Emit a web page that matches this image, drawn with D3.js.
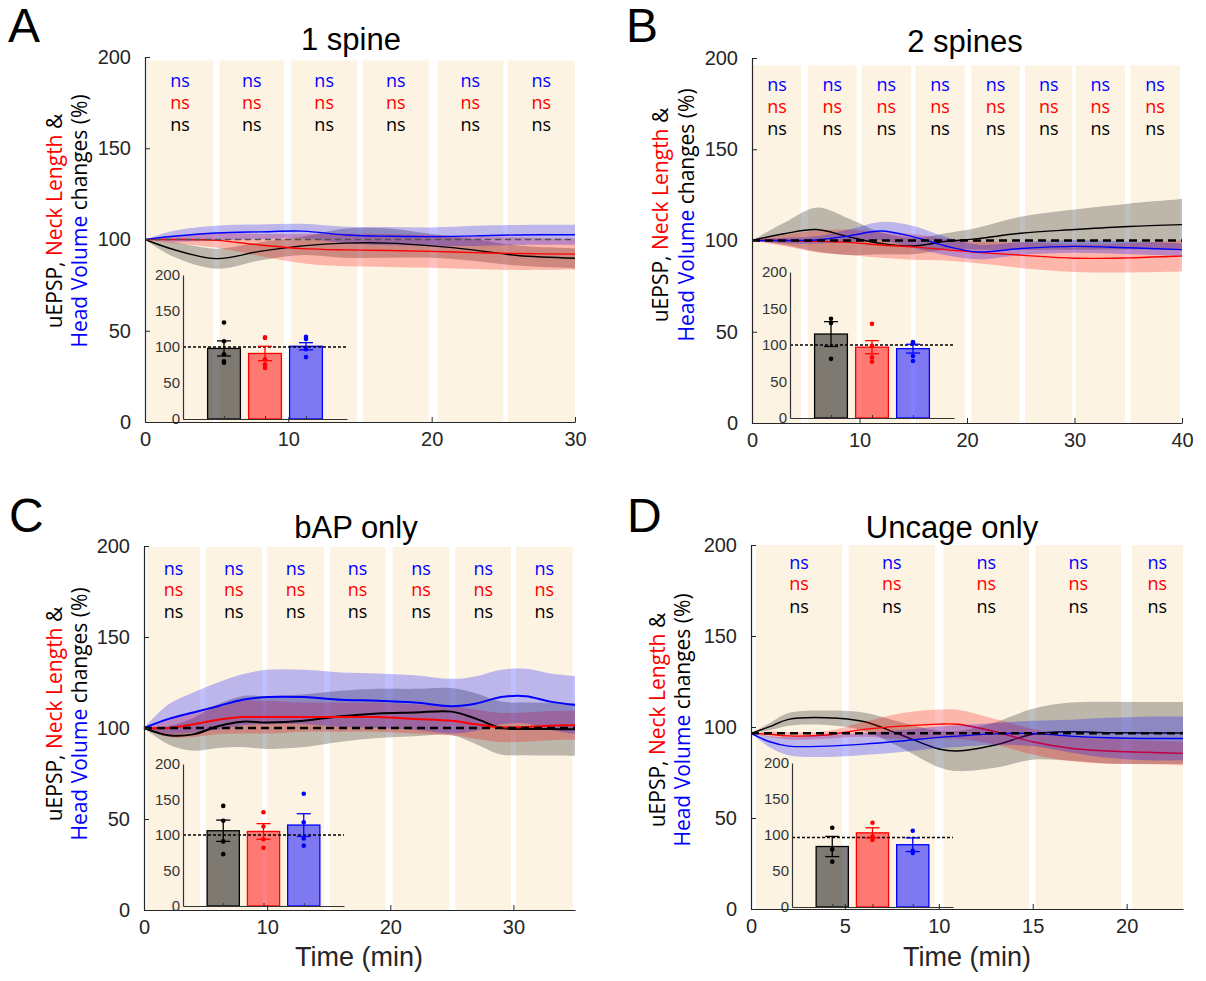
<!DOCTYPE html>
<html>
<head>
<meta charset="utf-8">
<script src="https://cdn.jsdelivr.net/npm/d3@7"></script>
<style>
  body { margin: 0; background: #fff; }
  svg { display: block; }
</style>
</head>
<body>
<svg id="chart" width="1206" height="981"></svg>
<script>
// ---------- data ----------
var titles = ["1 spine", "2 spines", "bAP only", "Uncage only"];
var letters = ["A", "B", "C", "D"];
var xMax = [30, 40, 35, 23];
var xTicks = [[0, 10, 20, 30], [0, 10, 20, 30, 40], [0, 10, 20, 30], [0, 5, 10, 15, 20]];
var yTicks = [0, 50, 100, 150, 200];
var insetTicks = [0, 50, 100, 150, 200];
var baseline = [100, 100, 100, 96.5];

// stimulation blocks (min)
var blocksA = [[0.15, 4.75], [5.2, 9.7], [10.2, 14.8], [15.2, 19.8], [20.4, 25], [25.3, 30]];
var blocksB = [[0.1, 4.55], [5.2, 9.75], [10.2, 14.8], [15.2, 19.8], [20.4, 24.9], [25.4, 29.8], [30.1, 34.7], [35.2, 39.8]];
var blocksC = [[0.25, 4.55], [5, 9.6], [10, 14.6], [15.1, 19.6], [20.2, 24.8], [25.3, 29.8], [30.2, 34.8]];
var blocksD = [[0.27, 4.85], [5.2, 9.8], [10.25, 14.8], [15.15, 19.7], [20.27, 23]];
var blockTop = [198, 196, 199.5, 200];
var nsRows = [[186.8, 174.8, 162.7], [185.2, 173.3, 161], [187.7, 175.8, 163.9], [190.3, 178.6, 166.1]];

// A: 1 spine
var timeA = [0, 2, 5, 8, 11, 14, 17, 20, 23, 26, 30];
var epspA = [100, 94.5, 89.5, 93.5, 96.5, 98, 98, 96.5, 94.2, 91.2, 89.7];
var epspSemA = [0, 4, 5.5, 5, 5, 8, 8, 6.5, 6, 5.5, 5.5];
var neckA = [100, 100, 99.5, 97, 95, 94.3, 94, 93.5, 92.8, 92.3, 92];
var neckSemA = [0, 2, 4, 6, 8, 9, 9, 9, 9, 9, 8.5];
var headA = [100, 101.8, 103.6, 104.2, 104.6, 102.5, 101.8, 101.6, 102, 102.5, 102.6];
var headSemA = [0, 3, 4, 4, 4, 4.5, 5, 5, 5.5, 5.5, 5.5];

// B: 2 spines
var timeB = [0, 3, 6, 9, 12, 15, 18, 21, 25, 30, 35, 40];
var epspB = [100, 103.7, 106, 102, 98.4, 97, 99.5, 101, 104, 106, 107.7, 108.7];
var epspSemB = [0, 6, 12, 10, 6, 4.5, 4.5, 6, 9, 11, 12.5, 14];
var neckB = [100, 100, 99.5, 99, 97.5, 96.5, 95, 93.5, 92, 90.3, 90.5, 91.5];
var neckSemB = [0, 3, 6, 7, 7, 7, 6, 6, 7, 7.5, 8, 8.5];
var headB = [100, 100, 100.3, 102.5, 105.2, 102, 97, 93.7, 95.6, 96.8, 96, 95];
var headSemB = [0, 1.5, 2, 3.5, 5, 6, 5, 4, 3.5, 3.5, 3.5, 3.5];

// C: bAP only
var timeC = [0, 2, 4, 6, 8, 10, 13, 16, 19, 22, 25, 27, 29, 31, 33, 35];
var epspC = [100, 96, 96.5, 101, 103.5, 103, 104, 106.5, 108, 108.5, 109, 105, 100, 99.5, 99.4, 99.3];
var epspSemC = [0, 5, 9, 12, 14, 14.5, 14.5, 14, 13.5, 13, 13, 14, 14.5, 14.5, 14.5, 14.5];
var neckC = [100, 100, 102, 104.5, 106, 106, 106, 106, 106, 105, 104, 102, 100.3, 100.5, 101.3, 101.5];
var neckSemC = [0, 5, 7, 8, 9, 9, 8, 8, 8, 8, 8, 8, 8, 8, 8, 8];
var headC = [100, 105, 108.5, 112, 115.5, 117, 117, 115.5, 115, 114, 112, 113.5, 117, 117.5, 114.5, 112.6];
var headSemC = [0, 8, 11, 13, 14, 15, 15, 15, 15, 15, 15, 15, 15, 15, 15.5, 16];

// D: uncage only
var timeD = [0, 1, 2, 4, 6, 8, 10, 11, 13, 15, 17, 19, 21, 23];
var epspD = [96.5, 100.2, 104.2, 105.1, 103, 95.6, 87.9, 86.8, 90.1, 96, 97.4, 96.9, 96.7, 96.7];
var epspSemD = [0, 2, 3.5, 4, 5, 7, 10, 11, 12.5, 14, 16, 17, 17, 17];
var neckD = [96.5, 96, 95.1, 95.6, 98.7, 100.5, 101.6, 101.5, 97.4, 91.9, 88.3, 86.8, 86.1, 85.5];
var neckSemD = [0, 1.5, 2, 2, 4, 7, 8, 8, 7, 7, 7, 7, 6.5, 6.5];
var headD = [96.5, 91.9, 89.5, 89.5, 90.6, 92.3, 94.3, 95, 96.2, 96.5, 95, 94.1, 93.7, 93.7];
var headSemD = [0, 3, 5, 6, 6, 6, 6, 6, 6, 7, 9, 11, 12, 12];

// inset bars: [uEPSP, neck length, head volume]
var barMeansA = [98, 91, 101];
var barSemA = [10.5, 10, 5];
var barDotsA = [[134, 108, 90, 80, 78], [113, 113, 83, 76, 71], [114, 111, 97, 86]];
var barMeansB = [115, 97, 95];
var barSemB = [17, 9, 6];
var barDotsB = [[136, 130, 81], [129, 99, 83, 77], [104, 103, 102, 85, 78]];
var barMeansC = [106, 105, 114];
var barSemC = [15, 11, 16];
var barDotsC = [[141, 120, 91, 73], [132, 112, 94, 82], [158, 118, 95, 85]];
var barMeansD = [84, 103, 86.5];
var barSemD = [14, 7, 9.5];
var barDotsD = [[110, 80, 63], [117, 98, 93], [106, 78, 75]];

var lineColors = ["#000000", "#ff0000", "#0000ff"];
var bandColors = ["rgba(0,0,0,0.25)", "rgba(255,0,0,0.25)", "rgba(0,0,255,0.25)"];
var barFills = ["rgba(0,0,0,0.5)", "rgba(255,0,0,0.5)", "rgba(0,0,255,0.5)"];
var nsColors = ["#0000ff", "#ff0000", "#000000"];

// ---------- layout ----------
var layout = [
  {x0: 145, x1: 575, y0: 422, y1: 57, ins: [183, 347, 419, 275], title: [351, 50], letter: [8, 42], yl: [62, 87, 221], dash: ["#555", 1.3, "6,4"], lw: 1.4, top: true},
  {x0: 752, x1: 1182, y0: 423, y1: 58, ins: [790, 954, 418, 272], title: [965, 52], letter: [626, 42], yl: [668, 694, 215], dash: ["#000", 2.5, "8,5"], lw: 1.4, top: true},
  {x0: 144, x1: 575, y0: 910, y1: 546, ins: [183, 344, 906, 764], title: [356, 538], letter: [9, 532], yl: [62, 87, 714], dash: ["#000", 2.5, "8,5"], lw: 2, top: true, xlab: [359, 966]},
  {x0: 751, x1: 1183, y0: 909, y1: 545, ins: [792, 953, 907, 763], title: [952, 538], letter: [627, 532], yl: [665, 690, 720], dash: ["#000", 2.5, "8,5"], lw: 1.4, top: false, xlab: [967, 966]}
];

var panels = [
  {blocks: blocksA, t: timeA, m: [epspA, neckA, headA], s: [epspSemA, neckSemA, headSemA], bm: barMeansA, bs: barSemA, bd: barDotsA},
  {blocks: blocksB, t: timeB, m: [epspB, neckB, headB], s: [epspSemB, neckSemB, headSemB], bm: barMeansB, bs: barSemB, bd: barDotsB},
  {blocks: blocksC, t: timeC, m: [epspC, neckC, headC], s: [epspSemC, neckSemC, headSemC], bm: barMeansC, bs: barSemC, bd: barDotsC},
  {blocks: blocksD, t: timeD, m: [epspD, neckD, headD], s: [epspSemD, neckSemD, headSemD], bm: barMeansD, bs: barSemD, bd: barDotsD}
];

var svg = d3.select("#chart");
var axisFont = "Arial, 'Liberation Sans', Helvetica, sans-serif";
var labelFont = "'Open Sans', 'Noto Sans', sans-serif";

panels.forEach(function(p, i) {
  var L = layout[i];
  var g = svg.append("g");
  var x = d3.scaleLinear().domain([0, xMax[i]]).range([L.x0, L.x1]);
  var y = d3.scaleLinear().domain([0, 200]).range([L.y0, L.y1]);

  // beige blocks
  g.selectAll("rect.block").data(p.blocks).enter().append("rect")
    .attr("class", "block")
    .attr("x", function(d){ return x(d[0]); })
    .attr("width", function(d){ return x(d[1]) - x(d[0]); })
    .attr("y", y(blockTop[i]))
    .attr("height", y(0) - y(blockTop[i]))
    .attr("fill", "#fdf3e3");

  // ns labels
  p.blocks.forEach(function(b) {
    nsRows[i].forEach(function(v, k) {
      g.append("text")
        .attr("x", x((b[0] + b[1]) / 2))
        .attr("y", y(v))
        .attr("dy", "0.35em")
        .attr("text-anchor", "middle")
        .attr("font-family", labelFont)
        .attr("font-size", 18)
        .attr("fill", nsColors[k])
        .text("ns");
    });
  });

  // mean +/- sem traces
  var curve = d3.curveCatmullRom.alpha(0.5);
  var bandLayer = g.append("g");
  var lineLayer = L.top ? g.append("g") : bandLayer;
  p.m.forEach(function(series, k) {
    var pts = p.t.map(function(t, j){ return {t: t, m: series[j], s: p.s[k][j]}; });
    var area = d3.area().curve(curve)
      .x(function(d){ return x(d.t); })
      .y0(function(d){ return y(d.m - d.s); })
      .y1(function(d){ return y(d.m + d.s); });
    var line = d3.line().curve(curve)
      .x(function(d){ return x(d.t); })
      .y(function(d){ return y(d.m); });
    bandLayer.append("path").datum(pts).attr("d", area).attr("fill", bandColors[k]).attr("stroke", "none");
    lineLayer.append("path").datum(pts).attr("d", line).attr("fill", "none")
      .attr("stroke", lineColors[k]).attr("stroke-width", L.lw);
  });

  // baseline dashed
  g.append("line")
    .attr("x1", x(0)).attr("x2", x(xMax[i]))
    .attr("y1", y(baseline[i])).attr("y2", y(baseline[i]))
    .attr("stroke", L.dash[0]).attr("stroke-width", L.dash[1])
    .attr("stroke-dasharray", L.dash[2]);

  // inset bar chart
  var bx = d3.scaleLinear().domain([0, 4]).range([L.ins[0], L.ins[1]]);
  var by = d3.scaleLinear().domain([0, 200]).range([L.ins[2], L.ins[3]]);
  var bw = bx(0.8) - bx(0);
  var cats = [1, 2, 3];
  var ig = g.append("g");

  ig.selectAll("rect.bar").data(p.bm).enter().append("rect")
    .attr("class", "bar")
    .attr("x", function(d, k){ return bx(cats[k]) - bw / 2; })
    .attr("width", bw)
    .attr("y", function(d){ return by(d); })
    .attr("height", function(d){ return by(0) - by(d); })
    .attr("fill", function(d, k){ return barFills[k]; })
    .attr("stroke", function(d, k){ return lineColors[k]; })
    .attr("stroke-width", 1.3);

  ig.append("line")
    .attr("x1", L.ins[0]).attr("x2", L.ins[1])
    .attr("y1", by(baseline[i])).attr("y2", by(baseline[i]))
    .attr("stroke", "#000").attr("stroke-width", 1.3)
    .attr("stroke-dasharray", "3,2");

  p.bm.forEach(function(mu, k) {
    var cx = bx(cats[k]);
    var lo = by(mu - p.bs[k]), hi = by(mu + p.bs[k]);
    ig.append("line").attr("x1", cx).attr("x2", cx).attr("y1", lo).attr("y2", hi)
      .attr("stroke", lineColors[k]).attr("stroke-width", 1.3);
    [lo, hi].forEach(function(yy) {
      ig.append("line").attr("x1", cx - 7).attr("x2", cx + 7).attr("y1", yy).attr("y2", yy)
        .attr("stroke", lineColors[k]).attr("stroke-width", 1.3);
    });
    ig.selectAll(null).data(p.bd[k]).enter().append("circle")
      .attr("cx", cx)
      .attr("cy", function(d){ return by(d); })
      .attr("r", 2.3)
      .attr("fill", lineColors[k]);
  });

  var iy = ig.append("g").attr("transform", "translate(" + L.ins[0] + ",0)")
    .call(d3.axisLeft(by).tickValues(insetTicks).tickSize(0).tickPadding(3));
  iy.select(".domain").attr("stroke", "#333").attr("stroke-width", 1.2);
  iy.selectAll("text").attr("font-family", axisFont).attr("font-size", 15).attr("fill", "#333");

  var ixa = ig.append("g").attr("transform", "translate(0," + L.ins[2] + ")")
    .call(d3.axisBottom(bx).tickValues(cats).tickSize(-3).tickSizeOuter(0).tickFormat(""));
  ixa.select(".domain").attr("stroke", "#333").attr("stroke-width", 1.2);
  ixa.selectAll(".tick line").attr("stroke", "#333");

  // main axes
  var ya = g.append("g").attr("transform", "translate(" + L.x0 + ",0)")
    .call(d3.axisLeft(y).tickValues(yTicks).tickSize(-5).tickSizeOuter(0).tickPadding(14));
  var xa = g.append("g").attr("transform", "translate(0," + L.y0 + ")")
    .call(d3.axisBottom(x).tickValues(xTicks[i]).tickSize(-5).tickSizeOuter(0).tickPadding(10));
  [ya, xa].forEach(function(a) {
    a.select(".domain").attr("stroke", "#262626").attr("stroke-width", 1.2);
    a.selectAll(".tick line").attr("stroke", "#262626");
    a.selectAll("text").attr("font-family", axisFont).attr("font-size", 20).attr("fill", "#262626");
  });

  // title and panel letter
  g.append("text").attr("x", L.title[0]).attr("y", L.title[1])
    .attr("text-anchor", "middle").attr("font-family", axisFont).attr("font-size", 31)
    .attr("fill", "#000").text(titles[i]);
  g.append("text").attr("x", L.letter[0]).attr("y", L.letter[1])
    .attr("font-family", axisFont).attr("font-size", 48)
    .attr("fill", "#000").text(letters[i]);

  // y label (two coloured lines)
  var t1 = g.append("text")
    .attr("transform", "translate(" + L.yl[0] + "," + L.yl[2] + ") rotate(-90)")
    .attr("text-anchor", "middle").attr("font-family", labelFont).attr("font-size", 21);
  t1.append("tspan").attr("fill", "#000").text("uEPSP, ");
  t1.append("tspan").attr("fill", "#ff0000").text("Neck Length");
  t1.append("tspan").attr("fill", "#000").text(" &");
  var t2 = g.append("text")
    .attr("transform", "translate(" + L.yl[1] + "," + L.yl[2] + ") rotate(-90)")
    .attr("text-anchor", "middle").attr("font-family", labelFont).attr("font-size", 21);
  t2.append("tspan").attr("fill", "#0000ff").text("Head Volume");
  t2.append("tspan").attr("fill", "#000").text(" changes (%)");

  if (L.xlab) {
    g.append("text").attr("x", L.xlab[0]).attr("y", L.xlab[1])
      .attr("text-anchor", "middle").attr("font-family", axisFont).attr("font-size", 27)
      .attr("fill", "#262626").text("Time (min)");
  }
});
</script>
</body>
</html>
